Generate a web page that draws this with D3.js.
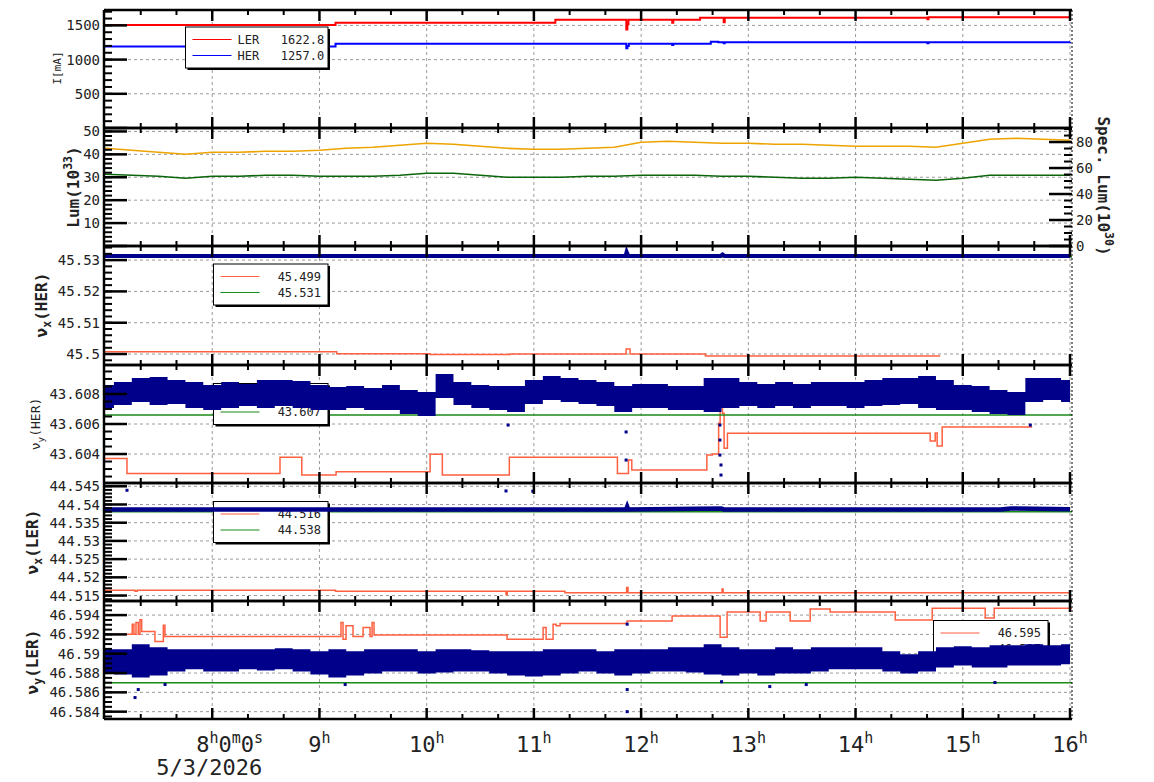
<!DOCTYPE html>
<html>
<head>
<meta charset="utf-8">
<script src="https://cdn.jsdelivr.net/npm/d3@7"></script>
<style>
  body { margin: 0; background: #fff; }
  text { font-family: "DejaVu Sans Mono", monospace; fill: #222; }
</style>
</head>
<body>
<div id="container"></div>
<script>
/* CONSTANTS AND GLOBALS */
const width = 1154, height = 782;
const plotLeft = 104, plotRight = 1072;

/* DATA (time in decimal hours, 5/3/2026) */
// beam current [mA]
const lerTime = [7.0, 9.15, 11.2, 11.862, 11.872, 11.882, 12.29, 12.3, 12.55, 12.77, 12.78, 14.67, 14.68, 16.0];
const lerCurrent = [1505, 1540, 1583, 1440, 1520, 1583, 1540, 1583, 1612, 1545, 1612, 1590, 1620, 1622];
const herTime = [7.0, 9.15, 11.862, 11.872, 11.885, 12.29, 12.3, 12.65, 12.72, 12.77, 12.78, 14.67, 14.68, 16.0];
const herCurrent = [1190, 1232, 1165, 1200, 1232, 1215, 1232, 1262, 1252, 1240, 1252, 1240, 1255, 1257];

// luminosity (15 min samples)
const lumTime = [7, 7.25, 7.5, 7.75, 8, 8.25, 8.5, 8.75, 9, 9.25, 9.5, 9.75, 10, 10.25, 10.5, 10.75, 11, 11.25, 11.5,
  11.75, 12, 12.25, 12.5, 12.75, 13, 13.25, 13.5, 13.75, 14, 14.25, 14.5, 14.75, 15, 15.25, 15.5, 15.75, 16];
const lumOrange = [42.64, 41.77, 40.9, 40.03, 40.9, 40.9, 41.34, 41.34, 41.77, 42.64, 43.08, 43.95, 44.83, 44.39, 43.52,
  42.64, 42.21, 42.21, 42.64, 43.08, 45.26, 45.7, 45.26, 44.83, 44.83, 44.39, 44.39, 43.95, 43.52, 43.52, 43.52, 43.08,
  44.83, 46.57, 47.0, 46.57, 46.14];
const lumGreen = [31.3, 30.86, 30.42, 29.55, 30.42, 30.42, 30.86, 30.86, 30.42, 30.42, 30.42, 30.86, 31.73, 31.73, 30.86,
  29.99, 29.99, 29.99, 30.42, 30.42, 30.86, 30.86, 30.86, 30.42, 30.42, 29.99, 29.55, 29.55, 29.99, 29.55, 29.11, 28.68,
  29.55, 30.86, 30.86, 30.86, 30.86];

// nu_x HER
const nxHerSetTime = [7.0, 9.161, 10.032, 10.778, 11.86, 11.897, 12.6, 14.79];
const nxHerSet = [45.50073, 45.5001, 45.49984, 45.5, 45.5016, 45.5, 45.49936, 45.49936];
const nxHerMeasTime = [7.0, 11.855, 11.865, 11.88, 12.74, 12.76, 12.78, 16.0];
const nxHerMeas = [45.5313, 45.5313, 45.5326, 45.5313, 45.5313, 45.5318, 45.5313, 45.5313];
const nxHerRef = 45.531;

// nu_y HER
const nyHerSetTime = [7.0, 7.205, 8.632, 8.835, 9.155, 10.032, 10.146, 10.771, 11.779, 11.882, 11.913, 12.613, 12.665,
  12.723, 12.737, 12.759, 12.774, 12.805, 14.696, 14.743, 14.761, 14.808, 15.647];
const nyHerSet = [43.60371, 43.60271, 43.60378, 43.6026, 43.60282, 43.60398, 43.6026, 43.60378, 43.60271, 43.6036,
  43.60293, 43.60393, 43.604, 43.60605, 43.60811, 43.60671, 43.60438, 43.60538, 43.60487, 43.6054, 43.60453, 43.6058,
  43.6058];
const nyHerRef = 43.6066;

// 10 min bins for the measured tune scatter
const binTime = [7, 7.167, 7.333, 7.5, 7.667, 7.833, 8, 8.167, 8.333, 8.5, 8.667, 8.833, 9, 9.167, 9.333, 9.5, 9.667,
  9.833, 10, 10.167, 10.333, 10.5, 10.667, 10.833, 11, 11.167, 11.333, 11.5, 11.667, 11.833, 12, 12.167, 12.333, 12.5,
  12.667, 12.833, 13, 13.167, 13.333, 13.5, 13.667, 13.833, 14, 14.167, 14.333, 14.5, 14.667, 14.833, 15, 15.167,
  15.333, 15.5, 15.667, 15.833, 16];
const nyHerLo = [43.60707, 43.60727, 43.60747, 43.60727, 43.60733, 43.60707, 43.60693, 43.60707, 43.6072, 43.60707,
  43.6072, 43.60707, 43.60693, 43.60693, 43.60707, 43.60693, 43.60693, 43.60667, 43.60653, 43.60773, 43.60727, 43.60707,
  43.60693, 43.6068, 43.60733, 43.6076, 43.60747, 43.60733, 43.6072, 43.6068, 43.60707, 43.60707, 43.60693, 43.60693,
  43.6068, 43.60707, 43.6072, 43.60707, 43.6072, 43.60707, 43.6072, 43.6072, 43.60707, 43.6072, 43.60727, 43.60733,
  43.60707, 43.60693, 43.60693, 43.6068, 43.60667, 43.6066, 43.60747, 43.6076, 43.60747];
const nyHerHi = [43.6086, 43.6088, 43.60907, 43.60913, 43.60893, 43.6088, 43.6086, 43.6088, 43.60867, 43.60893,
  43.60893, 43.60887, 43.6086, 43.60847, 43.60853, 43.6084, 43.6086, 43.60827, 43.60813, 43.60933, 43.6088, 43.6086,
  43.60853, 43.60853, 43.60893, 43.6092, 43.60907, 43.60893, 43.6088, 43.60853, 43.60867, 43.60867, 43.60853, 43.60853,
  43.60907, 43.60907, 43.6088, 43.60867, 43.6088, 43.60867, 43.6088, 43.6088, 43.6088, 43.60893, 43.60907, 43.60907,
  43.6092, 43.60893, 43.6086, 43.60853, 43.60827, 43.60813, 43.60907, 43.60907, 43.60893];
const nyHerOutT = [11.86, 11.86, 12.735, 12.735, 12.735, 12.745, 12.745, 10.76, 15.63];
const nyHerOutV = [43.60547, 43.6036, 43.60593, 43.60493, 43.60393, 43.60327, 43.6026, 43.60593, 43.60593];

// nu_x LER
const nxLerSetTime = [7.0, 7.28, 7.3, 9.15, 10.74, 10.752, 11.29, 11.865, 11.878, 12.755, 12.765, 16.0];
const nxLerSet = [44.51645, 44.5162, 44.51645, 44.51618, 44.51527, 44.51618, 44.51574, 44.51718, 44.51574, 44.5168,
  44.51574, 44.51574];
const nxLerMeasTime = [7.0, 11.86, 11.87, 11.88, 12.75, 12.77, 15.35, 15.45, 16.0];
const nxLerMeas = [44.5386, 44.5386, 44.5394, 44.5386, 44.5389, 44.5386, 44.5386, 44.5389, 44.5387];
const nxLerRef = 44.538;
const nxLerOutT = [7.205, 10.74, 10.99];
const nxLerOutV = [44.5439, 44.54372, 44.54364];

// nu_y LER
const nyLerSetTime = [7.0, 7.254, 7.27, 7.289, 7.31, 7.326, 7.342, 7.466, 7.544, 7.559, 9.201, 9.22, 9.248, 9.313,
  9.407, 9.472, 9.491, 9.509, 10.75, 11.086, 11.114, 11.179, 11.207, 11.244, 11.869, 12.289, 12.737, 12.802, 13.11,
  13.166, 13.39, 13.577, 13.763, 14.37, 14.715, 15.209, 15.293, 16.02];
const nyLerSet = [46.59202, 46.59306, 46.59202, 46.59324, 46.59202, 46.59351, 46.5923, 46.59126, 46.59296, 46.59178,
  46.59324, 46.5915, 46.59289, 46.59178, 46.59272, 46.59178, 46.59324, 46.59195, 46.5915, 46.59272, 46.5915, 46.59306,
  46.59289, 46.59314, 46.59338, 46.5939, 46.59171, 46.59431, 46.59338, 46.59431, 46.59338, 46.59463, 46.59431,
  46.59348, 46.5947, 46.59369, 46.5947, 46.5947];
const nyLerRef = 46.58699;
const nyLerLo = [46.58806, 46.58785, 46.58754, 46.58775, 46.58817, 46.58838, 46.58817, 46.58817, 46.58838, 46.58827,
  46.58838, 46.58817, 46.58785, 46.58754, 46.58775, 46.58796, 46.58817, 46.58817, 46.58796, 46.58806, 46.58817,
  46.58817, 46.58796, 46.58775, 46.58765, 46.58775, 46.58796, 46.58817, 46.58796, 46.58775, 46.58796, 46.58817,
  46.58817, 46.58806, 46.58785, 46.58775, 46.58796, 46.58775, 46.58796, 46.58796, 46.58817, 46.58838, 46.58838,
  46.58838, 46.58817, 46.58796, 46.58817, 46.58858, 46.58879, 46.58858, 46.58858, 46.58879, 46.58879, 46.58879, 46.5889];
const nyLerHi = [46.59046, 46.59046, 46.59098, 46.59067, 46.59046, 46.59046, 46.59046, 46.59046, 46.59046, 46.59046,
  46.59056, 46.59046, 46.59025, 46.59046, 46.59025, 46.59046, 46.59046, 46.59046, 46.59025, 46.59046, 46.59046,
  46.59035, 46.59025, 46.59025, 46.59025, 46.59046, 46.59046, 46.59046, 46.59025, 46.59046, 46.59046, 46.59046,
  46.59067, 46.59067, 46.59098, 46.59067, 46.59046, 46.59046, 46.59067, 46.59046, 46.59067, 46.59067, 46.59067,
  46.59067, 46.59025, 46.58994, 46.59025, 46.59067, 46.59077, 46.59067, 46.59088, 46.59088, 46.59098, 46.59088, 46.59098];
const nyLerOutT = [7.28, 7.31, 7.56, 9.24, 11.87, 11.87, 11.87, 13.2, 13.54, 15.3, 12.75];
const nyLerOutV = [46.58546, 46.58629, 46.58681, 46.58681, 46.584, 46.58629, 46.59306, 46.5866, 46.58681, 46.58702, 46.5871];

// legend texts
const legendCurrent = ["LER   1622.8", "HER   1257.0"];
const legendNxHer = ["45.499", "45.531"];
const legendNyHer = ["43.607", "43.607"];
const legendNxLer = ["44.516", "44.538"];
const legendNyLer = ["46.595", "46.587"];

const hourLabels = [8, 9, 10, 11, 12, 13, 14, 15, 16];
const dateLabel = "5/3/2026";

/* COLOURS */
const cTomato = "#ff6040", cGreen = "#1a8a1a", cNavy = "#00008b";

const svg = d3.select("#container").append("svg")
  .attr("width", width).attr("height", height);

const x = d3.scaleLinear().domain([7, 16]).range([105, 1070]);

function pts(ts, vs) { return ts.map((t, i) => ({ t, v: vs[i] })); }
function stepTicks(domain, step) {
  const k0 = Math.ceil(domain[0] / step - 1e-7), k1 = Math.floor(domain[1] / step + 1e-7);
  return d3.range(k0, k1 + 1).map(k => +(k * step).toFixed(6));
}

// panel frames
function makePanel(id, top, bottom, domain, major, minor, fmt) {
  const y = d3.scaleLinear().domain(domain).range([bottom, top]);
  const g = svg.append("g");
  g.append("clipPath").attr("id", "clip" + id)
    .append("rect").attr("x", plotLeft).attr("y", top).attr("width", plotRight - plotLeft).attr("height", bottom - top);

  const majors = stepTicks(domain, major);
  // grid
  g.selectAll("line.hgrid").data(majors).join("line")
    .attr("x1", plotLeft).attr("x2", plotRight).attr("y1", d => y(d)).attr("y2", d => y(d))
    .attr("stroke", "#9a9a9a").attr("stroke-dasharray", "3,3");
  g.selectAll("line.vgrid").data(hourLabels).join("line")
    .attr("x1", d => x(d)).attr("x2", d => x(d)).attr("y1", top).attr("y2", bottom)
    .attr("stroke", "#9a9a9a").attr("stroke-dasharray", "3,3");

  const data = g.append("g").attr("clip-path", `url(#clip${id})`);
  const over = g.append("g");
  const dots = g.append("g").attr("clip-path", `url(#clip${id})`);
  const axes = g.append("g");

  // left ticks
  axes.selectAll("line.minor").data(stepTicks(domain, minor)).join("line")
    .attr("x1", plotLeft).attr("x2", plotLeft + 8).attr("y1", d => y(d)).attr("y2", d => y(d))
    .attr("stroke", "#000").attr("stroke-width", 2);
  axes.selectAll("line.major").data(majors).join("line")
    .attr("x1", plotLeft).attr("x2", plotLeft + 23).attr("y1", d => y(d)).attr("y2", d => y(d))
    .attr("stroke", "#000").attr("stroke-width", 2.5);
  axes.selectAll("text.tick").data(majors.filter(d => y(d) < bottom - 3)).join("text")
    .attr("x", 100).attr("y", d => y(d)).attr("dy", "0.36em")
    .attr("text-anchor", "end").attr("font-size", 14).text(fmt);

  // time ticks on top and bottom edges
  const minorT = d3.range(0, 28).map(k => 7 + k / 3).filter(t => Math.abs(t - Math.round(t)) > 0.01);
  [[bottom, -1], [top, 1]].forEach(([yy, dir]) => {
    axes.append("g").selectAll("line").data(minorT).join("line")
      .attr("x1", d => x(d)).attr("x2", d => x(d)).attr("y1", yy).attr("y2", yy + dir * 5)
      .attr("stroke", "#000").attr("stroke-width", 2);
    axes.append("g").selectAll("line").data(hourLabels).join("line")
      .attr("x1", d => x(d)).attr("x2", d => x(d)).attr("y1", yy).attr("y2", yy + dir * 11)
      .attr("stroke", "#000").attr("stroke-width", 2.5);
    axes.append("line").attr("x1", plotLeft).attr("x2", plotRight).attr("y1", yy).attr("y2", yy)
      .attr("stroke", "#000").attr("stroke-width", 2.5);
  });
  axes.append("line").attr("x1", plotLeft).attr("x2", plotLeft).attr("y1", top).attr("y2", bottom)
    .attr("stroke", "#000").attr("stroke-width", 2.5);
  return { y, data, over, dots, axes, top, bottom };
}

function stepLine(panel, ts, vs, color, w, curve) {
  panel.data.append("path").datum(pts(ts, vs))
    .attr("fill", "none").attr("stroke", color).attr("stroke-width", w)
    .attr("d", d3.line().x(d => x(d.t)).y(d => panel.y(d.v)).curve(curve || d3.curveStepAfter));
}
function hLine(panel, v, color) {
  panel.data.append("line").attr("x1", plotLeft).attr("x2", plotRight)
    .attr("y1", panel.y(v)).attr("y2", panel.y(v)).attr("stroke", color).attr("stroke-width", 1.5);
}
// dense tune scatter drawn as its low/high envelope per 10 min bin
function band(panel, ts, lo, hi) {
  panel.dots.append("path").datum(ts.map((t, i) => ({ t, lo: lo[i], hi: hi[i] })))
    .attr("fill", cNavy)
    .attr("d", d3.area().x(d => x(d.t)).y0(d => panel.y(d.lo)).y1(d => panel.y(d.hi)).curve(d3.curveStep));
}
function outliers(panel, ts, vs) {
  panel.dots.selectAll("rect.out").data(pts(ts, vs)).join("rect")
    .attr("x", d => x(d.t) - 1.5).attr("y", d => panel.y(d.v) - 1.5)
    .attr("width", 3).attr("height", 3).attr("fill", cNavy);
}
function legend(panel, bx, by, bw, labels, colors, anchorEnd) {
  const g = panel.over.append("g");
  g.append("rect").attr("x", bx + 2).attr("y", by + 2).attr("width", bw).attr("height", 41).attr("fill", "#000");
  g.append("rect").attr("x", bx).attr("y", by).attr("width", bw).attr("height", 41)
    .attr("fill", "#fff").attr("stroke", "#000").attr("stroke-width", 1);
  labels.forEach((lab, i) => {
    const ly = by + 12.5 + i * 16;
    g.append("line").attr("x1", bx + 7).attr("x2", bx + 46).attr("y1", ly).attr("y2", ly)
      .attr("stroke", colors[i]).attr("stroke-width", 1.2);
    g.append("text").attr("x", anchorEnd ? bx + bw - 7 : bx + 52).attr("y", ly).attr("dy", "0.36em")
      .attr("xml:space", "preserve").style("white-space", "pre")
      .attr("text-anchor", anchorEnd ? "end" : "start").attr("font-size", 12).text(lab);
  });
}

/* PANEL 1: current */
const p1 = makePanel(1, 10, 128, [0, 1725], 500, 100, d3.format("d"));
stepLine(p1, lerTime, lerCurrent, "#ff0000", 2);
stepLine(p1, herTime, herCurrent, "#0000ff", 2);
legend(p1, 185.5, 27, 142.5, legendCurrent, ["#ff0000", "#0000ff"], false);

/* PANEL 2: luminosity */
const p2 = makePanel(2, 128, 246, [0, 51.5], 10, 2, d3.format("d"));
stepLine(p2, lumTime, lumOrange, "#eea400", 1.6, d3.curveLinear);
stepLine(p2, lumTime, lumGreen, "#0b650b", 1.6, d3.curveLinear);
const yR = d3.scaleLinear().domain([0, 90.8]).range([246, 128]);
p2.axes.selectAll("line.rminor").data(stepTicks(yR.domain(), 5)).join("line")
  .attr("x1", plotRight - 8).attr("x2", plotRight).attr("y1", d => yR(d)).attr("y2", d => yR(d))
  .attr("stroke", "#000").attr("stroke-width", 2);
p2.axes.selectAll("line.rmajor").data(stepTicks(yR.domain(), 20)).join("line")
  .attr("x1", plotRight - 23).attr("x2", plotRight).attr("y1", d => yR(d)).attr("y2", d => yR(d))
  .attr("stroke", "#000").attr("stroke-width", 2.5);
p2.axes.selectAll("text.rtick").data(stepTicks(yR.domain(), 20)).join("text")
  .attr("x", 1076).attr("y", d => yR(d)).attr("dy", "0.36em").attr("font-size", 14).text(d => d);

/* PANEL 3: nu_x HER */
const p3 = makePanel(3, 246, 365, [45.4965, 45.5345], 0.01, 0.002, d3.format(".2~f"));
stepLine(p3, nxHerSetTime, nxHerSet, cTomato, 1.5);
hLine(p3, nxHerRef, cGreen);
legend(p3, 213.5, 264, 114.5, legendNxHer, [cTomato, cGreen], true);
stepLine({ data: p3.dots, y: p3.y }, nxHerMeasTime, nxHerMeas, cNavy, 4, d3.curveLinear);

/* PANEL 4: nu_y HER */
const p4 = makePanel(4, 365, 483, [43.60207, 43.60993], 0.002, 0.0005, d3.format(".3~f"));
stepLine(p4, nyHerSetTime, nyHerSet, cTomato, 1.5);
hLine(p4, nyHerRef, cGreen);
legend(p4, 213.5, 383.5, 114.5, legendNyHer, [cTomato, cGreen], true);
band(p4, binTime, nyHerLo, nyHerHi);
outliers(p4, nyHerOutT, nyHerOutV);

/* PANEL 5: nu_x LER */
const p5 = makePanel(5, 483, 601, [44.5135, 44.5459], 0.005, 0.001, d3.format(".3~f"));
stepLine(p5, nxLerSetTime, nxLerSet, cTomato, 1.5);
hLine(p5, nxLerRef, cGreen);
legend(p5, 213.5, 501.5, 114.5, legendNxLer, [cTomato, cGreen], true);
stepLine({ data: p5.dots, y: p5.y }, nxLerMeasTime, nxLerMeas, cNavy, 4.5, d3.curveLinear);
outliers(p5, nxLerOutT, nxLerOutV);

/* PANEL 6: nu_y LER */
const p6 = makePanel(6, 601, 719, [46.58324, 46.59546], 0.002, 0.0005, d3.format(".3~f"));
stepLine(p6, nyLerSetTime, nyLerSet, cTomato, 1.5);
hLine(p6, nyLerRef, cGreen);
legend(p6, 933.5, 620.5, 114.5, legendNyLer, [cTomato, cGreen], true);
band(p6, binTime, nyLerLo, nyLerHi);
outliers(p6, nyLerOutT, nyLerOutV);

// right edge
svg.append("line").attr("x1", plotRight).attr("x2", plotRight).attr("y1", 10).attr("y2", 719)
  .attr("stroke", "#000").attr("stroke-dasharray", "2,2");

/* AXIS LABELS */
function vLabel(cx, cy, rot, size, weight, parts) {
  const t = svg.append("text").attr("transform", `translate(${cx},${cy}) rotate(${rot})`)
    .attr("text-anchor", "middle").attr("dy", "0.36em")
    .attr("font-size", size).attr("font-weight", weight);
  let shift = 0;
  parts.forEach(([s, kind]) => {
    const sp = t.append("tspan").text(s);
    const want = kind === "sub" ? 4 : kind === "sup" ? -7 : 0;
    if (want !== shift) sp.attr("dy", want - shift);
    if (kind) sp.attr("font-size", size * 0.72);
    shift = want;
  });
}
vLabel(57.5, 68, -90, 11, "normal", [["I[mA]"]]);
vLabel(73, 187, -90, 16, "bold", [["Lum(10"], ["33", "sup"], [")"]]);
vLabel(41, 305, -90, 16, "bold", [["ν"], ["x", "sub"], ["(HER)"]]);
vLabel(35, 424, -90, 13, "normal", [["ν"], ["y", "sub"], ["(HER)"]]);
vLabel(32, 542, -90, 16, "bold", [["ν"], ["x", "sub"], ["(LER)"]]);
vLabel(32, 662, -90, 16, "bold", [["ν"], ["y", "sub"], ["(LER)"]]);
vLabel(1104, 186, 90, 16, "bold", [["Spec. Lum(10"], ["30", "sup"], [")"]]);

// time labels
hourLabels.forEach(h => {
  const first = h === 8;
  const t = svg.append("text").attr("x", first ? x(h) - 16 : x(h)).attr("y", 752)
    .attr("text-anchor", first ? "start" : "middle").attr("font-size", 22);
  const parts = first ? [["8"], ["h", 1], ["0"], ["m", 1], ["0"], ["s", 1]] : [[String(h)], ["h", 1]];
  let up = false;
  parts.forEach(([s, sup]) => {
    const sp = t.append("tspan").text(s);
    if (sup) { sp.attr("font-size", 15).attr("dy", -9); up = true; }
    else if (up) { sp.attr("dy", 9); up = false; }
  });
});
svg.append("text").attr("x", x(8) - 3).attr("y", 775).attr("text-anchor", "middle")
  .attr("font-size", 22).text(dateLabel);
</script>
</body>
</html>
